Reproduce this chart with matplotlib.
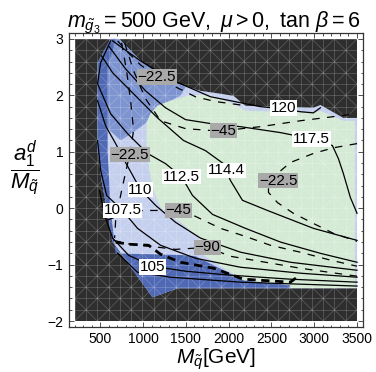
import numpy as np
import matplotlib.pyplot as plt
from matplotlib.collections import LineCollection

plt.rcParams['font.family'] = ['Liberation Sans', 'DejaVu Sans']
plt.rcParams['mathtext.fontset'] = 'custom'
plt.rcParams['mathtext.rm'] = 'Liberation Sans'
plt.rcParams['mathtext.it'] = 'Liberation Sans:italic'
plt.rcParams['mathtext.bf'] = 'Liberation Sans:bold'

# --- region outlines (x: M_q in GeV, y: a1d/M_q) ---
allowed_x = [620, 720, 1005, 1169, 1402, 1671, 1904, 2056, 2196, 2990, 3072, 3340, 3500,
             3500, 1402, 1110, 644, 574, 515, 468, 468]
allowed_y = [3.0, 3.0, 2.56, 2.40, 2.205, 2.08, 2.03, 1.99, 1.815, 1.78, 1.83, 1.60, 1.60,
             -1.42, -1.42, -1.58, -0.60, 0.0, 0.49, 1.02, 2.58]

mid_x = [620, 720, 1005, 1169, 1402, 1496, 1440, 1321, 1169, 1087, 1040, 912, 737, 585, 585]
mid_y = [3.0, 3.0, 2.56, 2.40, 2.205, 2.15, 2.0, 1.905, 1.816, 1.675, 1.52, 1.375, 1.2, 1.41, 2.50]

deep_x = [468, 620, 680, 585, 585, 620, 660, 679, 1437, 1612, 2173, 2721, 2721, 1402, 1110,
          644, 574, 515, 468]
deep_y = [2.58, 3.0, 3.0, 2.50, 1.0, 0.0, -0.55, -0.80, -0.83, -0.852, -1.276, -1.364, -1.42,
          -1.42, -1.58, -0.60, 0.0, 0.49, 1.02]

green_x = [1040, 1087, 1169, 1321, 1519, 1671, 1788, 2056, 2196, 2990, 3072, 3340, 3475,
           3475, 2721, 2721, 2173, 1706, 1647, 1414, 1204, 1110, 1040]
green_y = [1.516, 1.675, 1.816, 1.905, 1.993, 2.01, 1.993, 1.85, 1.728, 1.693, 1.728, 1.551, 1.551,
           -1.417, -1.417, -1.364, -1.276, -0.834, -0.516, -0.216, 0.014, 0.367, 0.968]

# --- Higgs mass contours (solid) ---
h120_x = [644, 970, 1356, 1788, 2138, 2371, 2640, 2838, 2990, 3072]
h120_y = [2.965, 2.61, 2.26, 1.975, 1.87, 1.80, 1.76, 1.71, 1.69, 1.78]
h117_x = [597, 795, 1029, 1262, 1496, 1788, 2138, 2605, 2967, 3212, 3282, 3340, 3422, 3500]
h117_y = [2.876, 2.47, 2.08, 1.78, 1.57, 1.50, 1.445, 1.34, 1.23, 1.11, 0.88, 0.615, 0.19, -0.09]
h114_x = [515, 644, 854, 1169, 1472, 1729, 1939, 2021, 2161, 2453, 2990, 3500]
h114_y = [2.70, 2.40, 2.08, 1.60, 1.20, 1.02, 0.79, 0.49, 0.14, -0.04, -0.357, -0.57]
h112_x = [620, 504, 468, 620, 819, 1052, 1262, 1449, 1577, 1811, 2196, 2605, 3072, 3500]
h112_y = [2.965, 2.58, 2.205, 1.675, 1.32, 0.97, 0.79, 0.56, 0.226, -0.11, -0.357, -0.60, -0.80, -0.958]
h110_x = [468, 562, 679, 795, 970, 1146, 1379, 1671, 2138, 2721, 3500]
h110_y = [1.905, 1.46, 1.145, 0.81, 0.33, 0.05, -0.25, -0.53, -0.78, -0.958, -1.10]
h107_x = [468, 504, 574, 760, 935, 1204, 1612, 2138, 2838, 3500]
h107_y = [1.20, 0.67, 0.226, -0.04, -0.357, -0.657, -0.887, -1.046, -1.152, -1.223]
h105_x = [492, 550, 644, 830, 1110, 1496, 2021, 2721, 3500]
h105_y = [0.315, -0.127, -0.53, -0.834, -1.028, -1.117, -1.187, -1.258, -1.311]
hlow_x = [703, 935, 1321, 2138, 3500]
hlow_y = [-0.80, -1.134, -1.223, -1.311, -1.38]

# --- second quantity (dashed) ---
d22a_x = [702, 830, 970, 1157, 1379, 1612, 1846, 2138]
d22a_y = [2.965, 2.75, 2.54, 2.33, 2.15, 1.975, 1.89, 1.83]
d22b_x = [749, 807, 854, 889, 842, 749, 679, 667]
d22b_y = [2.93, 2.435, 1.905, 1.375, 0.95, 0.315, -0.215, -0.53]
d22c_x = [3500, 3223, 2990, 2721, 2581, 2465, 2465, 2570, 2756, 2990, 3223, 3500]
d22c_y = [1.145, 1.07, 0.97, 0.81, 0.63, 0.456, 0.28, 0.10, -0.09, -0.27, -0.445, -0.587]
d45a_x = [784, 889, 1029, 1204, 1496, 1811, 1939, 2371, 2838, 3500]
d45a_y = [2.93, 2.435, 1.94, 1.55, 1.41, 1.375, 1.375, 1.445, 1.55, 1.675]
d45b_x = [574, 795, 1005, 1414, 1612, 1904, 2196, 2488, 2838, 3188, 3500]
d45b_y = [-0.215, -0.09, -0.04, -0.04, -0.145, -0.357, -0.50, -0.657, -0.78, -0.92, -1.028]
d90_x = [655, 854, 1087, 1379, 1753, 2021, 2430, 2838, 3500]
d90_y = [-0.57, -0.64, -0.675, -0.73, -0.693, -0.852, -0.958, -1.064, -1.205]
dbot_x = [679, 854, 1064, 1204, 1437, 1823, 2173, 2721, 2815]
dbot_y = [-0.604, -0.64, -0.657, -0.816, -0.958, -1.064, -1.258, -1.311, -1.205]

# contour labels
solid_labels = ['120', '117.5', '114.4', '112.5', '110', '107.5', '105']
solid_lab_x = [2640, 2967, 1974, 1449, 970, 760, 1110]
solid_lab_y = [1.78, 1.23, 0.67, 0.56, 0.33, -0.04, -1.046]
dash_labels = ['\u221222.5', '\u221245', '\u221222.5', '\u221222.5', '\u221245', '\u221290']
dash_lab_x = [1157, 1939, 842, 2581, 1414, 1753]
dash_lab_y = [2.33, 1.375, 0.95, 0.49, -0.04, -0.693]

# mesh grid of the excluded-region plot
mesh_x = np.linspace(200, 3500, 26)
mesh_y = np.linspace(-2, 3, 26)

fig = plt.figure(figsize=(3.76, 3.72), dpi=100)
ax = fig.add_axes([0.1835, 0.1218, 0.7811, 0.7887])

ax.fill([200, 3500, 3500, 200], [-2, -2, 3, 3], color='#2e2e2e', lw=0, zorder=1)
ax.fill(allowed_x, allowed_y, color='#c5cfee', lw=0, zorder=2)
ax.fill(mid_x, mid_y, color='#7d94d0', lw=0, zorder=3)
ax.fill(deep_x, deep_y, color='#5069b4', lw=0, zorder=4)
ax.fill(green_x, green_y, color='#d4ead4', lw=0, zorder=5)

segs = [[(x, -2), (x, 3)] for x in mesh_x] + [[(200, y), (3500, y)] for y in mesh_y]
for i in range(25):
    for j in range(25):
        x0, x1 = mesh_x[i], mesh_x[i + 1]
        y0, y1 = mesh_y[j], mesh_y[j + 1]
        if (i + j) % 2 == 0:
            segs.append([(x0, y0), (x1, y1)])
        else:
            segs.append([(x0, y1), (x1, y0)])
ax.add_collection(LineCollection(segs, colors='white', alpha=0.2, linewidths=0.6, zorder=6))

for xs, ys in [(h120_x, h120_y), (h117_x, h117_y), (h114_x, h114_y), (h112_x, h112_y),
               (h110_x, h110_y), (h107_x, h107_y), (h105_x, h105_y), (hlow_x, hlow_y)]:
    ax.plot(xs, ys, color='black', lw=0.9, zorder=7)

for xs, ys in [(d22a_x, d22a_y), (d22b_x, d22b_y), (d22c_x, d22c_y), (d45a_x, d45a_y),
               (d45b_x, d45b_y), (d90_x, d90_y)]:
    ax.plot(xs, ys, color='black', lw=0.9, dashes=(6, 6), zorder=7)
ax.plot(dbot_x, dbot_y, color='black', lw=2.0, dashes=(3, 2), zorder=7)

for s, x, y in zip(solid_labels, solid_lab_x, solid_lab_y):
    ax.text(x, y, s, ha='center', va='center', fontsize=11, zorder=9,
            bbox=dict(boxstyle='square,pad=0.05', fc='white', ec='none'))
for s, x, y in zip(dash_labels, dash_lab_x, dash_lab_y):
    ax.text(x, y, s, ha='center', va='center', fontsize=11, zorder=9,
            bbox=dict(boxstyle='square,pad=0.05', fc='#a9a9a9', ec='none'))

ax.set_xlim(134, 3566)
ax.set_ylim(-2.1, 3.1)
ax.set_xticks(np.arange(500, 3501, 500))
ax.set_xticks(np.arange(200, 3501, 100), minor=True)
ax.set_yticks(np.arange(-2, 4, 1))
ax.set_yticks(np.arange(-2, 3.01, 0.2), minor=True)
ax.tick_params(which='both', direction='in', top=True, right=True, color='#333333', width=0.6)
ax.tick_params(which='major', length=3.5, labelsize=10)
ax.tick_params(which='minor', length=1.8)
ax.tick_params(axis='x', pad=4)
ax.tick_params(axis='y', pad=4)
for sp in ax.spines.values():
    sp.set_color('#333333')
    sp.set_linewidth(0.9)

fig.text(214 / 376, 1 - 27 / 372, r'$m_{\tilde{g}_3} = 500\ \mathrm{GeV},\ \mu > 0,\ \tan\,\beta = 6$',
         ha='center', va='baseline', fontsize=15.5)
fig.text(216 / 376, 1 - 364 / 372, r'$M_{\tilde{q}}$[GeV]', ha='center', va='baseline', fontsize=15)
fig.text(25 / 376, 1 - 168 / 372, r'$\dfrac{a_1^d}{M_{\tilde{q}}}$', ha='center', va='center', fontsize=16)

fig.savefig('out.png', dpi=100)
